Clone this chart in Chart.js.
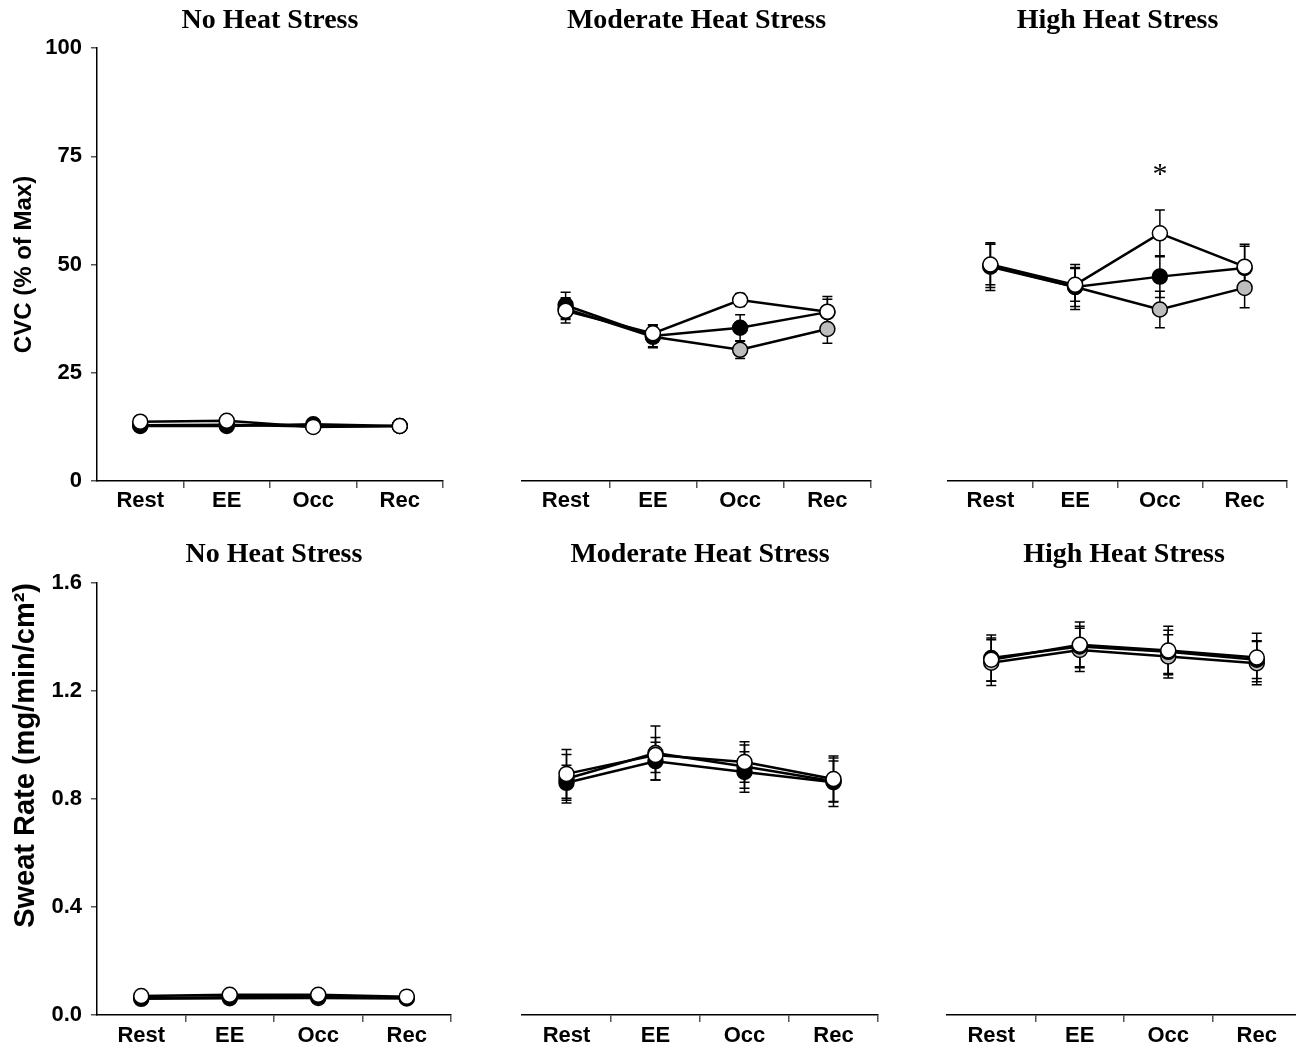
<!DOCTYPE html>
<html>
<head>
<meta charset="utf-8">
<script src="https://cdn.jsdelivr.net/npm/chart.js@4.4.1/dist/chart.umd.min.js"></script>
<style>
  html, body { margin: 0; padding: 0; background: #fff; overflow: hidden; width: 1296px; height: 1051px; }
  .panel { position: absolute; }
</style>
</head>
<body>
<div class="panel" style="left:0px;top:0px;width:452px;height:521px"><canvas id="cvc0"></canvas></div>
<div class="panel" style="left:500px;top:0px;width:380px;height:521px"><canvas id="cvc1"></canvas></div>
<div class="panel" style="left:930px;top:0px;width:366px;height:521px"><canvas id="cvc2"></canvas></div>
<div class="panel" style="left:0px;top:530px;width:460px;height:521px"><canvas id="sr0"></canvas></div>
<div class="panel" style="left:500px;top:530px;width:390px;height:521px"><canvas id="sr1"></canvas></div>
<div class="panel" style="left:930px;top:530px;width:380px;height:521px"><canvas id="sr2"></canvas></div>
<script>
const phases = ['Rest', 'EE', 'Occ', 'Rec'];
const conditions = ['No Heat Stress', 'Moderate Heat Stress', 'High Heat Stress'];

// CVC (% of max), one row per condition
const cvcBlack = [[12.7, 12.7, 13.1, 12.7], [40.6, 33.5, 35.4, 39.0], [49.7, 44.8, 47.2, 49.2]];
const cvcGrey = [[12.9, 13.0, 12.6, 12.7], [39.8, 33.3, 30.3, 35.1], [49.5, 44.8, 39.6, 44.6]];
const cvcWhite = [[13.7, 13.9, 12.5, 12.7], [39.3, 34.1, 41.8, 39.1], [50.0, 45.3, 57.2, 49.5]];
const cvcBlackErr = [[0.8, 0.8, 0.8, 0.8], [3.0, 2.5, 3.0, 3.0], [5.0, 4.5, 4.8, 5.0]];
const cvcGreyErr = [[0.8, 0.8, 0.8, 0.8], [2.5, 2.5, 2.0, 3.3], [5.5, 5.2, 4.2, 4.6]];
const cvcWhiteErr = [[0.8, 0.8, 0.8, 0.8], [2.8, 2.0, 1.5, 3.5], [4.7, 3.8, 5.4, 5.2]];

// Sweat rate (mg/min/cm2)
const srBlack = [[0.063, 0.066, 0.068, 0.064], [0.860, 0.940, 0.900, 0.862], [1.322, 1.365, 1.345, 1.316]];
const srGrey = [[0.060, 0.062, 0.063, 0.061], [0.875, 0.970, 0.920, 0.866], [1.305, 1.352, 1.328, 1.303]];
const srWhite = [[0.070, 0.075, 0.075, 0.068], [0.893, 0.963, 0.937, 0.874], [1.316, 1.371, 1.350, 1.324]];
const srBlackErr = [[0.004, 0.004, 0.004, 0.004], [0.065, 0.070, 0.075, 0.090], [0.085, 0.075, 0.080, 0.070]];
const srGreyErr = [[0.004, 0.004, 0.004, 0.004], [0.090, 0.100, 0.080, 0.075], [0.085, 0.080, 0.080, 0.080]];
const srWhiteErr = [[0.004, 0.004, 0.004, 0.004], [0.090, 0.065, 0.075, 0.085], [0.080, 0.085, 0.090, 0.090]];

const cvcTicks = [0, 25, 50, 75, 100];
const srTicks = [0.0, 0.4, 0.8, 1.2, 1.6];

// significance marker: high heat stress, CVC, occlusion
const sigMarks = [{ metric: 'cvc', cond: 2, phase: 'Occ', value: 72, text: '*' }];

const sansFont = "'Liberation Sans', Arial, sans-serif";
const serifFont = "'Liberation Serif', 'Times New Roman', serif";

const errorBars = {
  id: 'errorBars',
  beforeDatasetsDraw(chart) {
    const ctx = chart.ctx;
    const y = chart.scales.y;
    ctx.save();
    ctx.strokeStyle = '#000';
    ctx.lineWidth = 1.5;
    chart.data.datasets.forEach((ds, i) => {
      const meta = chart.getDatasetMeta(i);
      meta.data.forEach((pt, j) => {
        const v = ds.data[j], e = ds.errors[j];
        const top = y.getPixelForValue(v + e);
        const bot = y.getPixelForValue(v - e);
        ctx.beginPath();
        ctx.moveTo(pt.x, top); ctx.lineTo(pt.x, bot);
        ctx.moveTo(pt.x - 5, top); ctx.lineTo(pt.x + 5, top);
        ctx.moveTo(pt.x - 5, bot); ctx.lineTo(pt.x + 5, bot);
        ctx.stroke();
      });
    });
    ctx.restore();
  }
};

const markText = {
  id: 'markText',
  afterDatasetsDraw(chart, args, opts) {
    const ctx = chart.ctx;
    (opts.marks || []).forEach(m => {
      const px = chart.scales.x.getPixelForValue(phases.indexOf(m.phase));
      const py = chart.scales.y.getPixelForValue(m.value);
      ctx.save();
      ctx.fillStyle = '#000';
      ctx.font = '30px ' + serifFont;
      ctx.textAlign = 'center';
      ctx.textBaseline = 'middle';
      ctx.fillText(m.text, px, py + 6);
      ctx.restore();
    });
  }
};

function makeDatasets(black, grey, white, bErr, gErr, wErr) {
  const base = {
    borderColor: '#000',
    borderWidth: 2.5,
    pointRadius: 7.5,
    pointBorderWidth: 1.5,
    pointBorderColor: '#000',
    tension: 0
  };
  return [
    Object.assign({}, base, { label: 'black', data: black, errors: bErr, pointBackgroundColor: '#000', order: 2 }),
    Object.assign({}, base, { label: 'grey', data: grey, errors: gErr, pointBackgroundColor: '#bdbdbd', order: 3 }),
    Object.assign({}, base, { label: 'white', data: white, errors: wErr, pointBackgroundColor: '#fff', order: 1 })
  ];
}

function drawPanel(id, metric, cond, opt) {
  const isCvc = metric === 'cvc';
  const datasets = isCvc
    ? makeDatasets(cvcBlack[cond], cvcGrey[cond], cvcWhite[cond], cvcBlackErr[cond], cvcGreyErr[cond], cvcWhiteErr[cond])
    : makeDatasets(srBlack[cond], srGrey[cond], srWhite[cond], srBlackErr[cond], srGreyErr[cond], srWhiteErr[cond]);
  const tickVals = isCvc ? cvcTicks : srTicks;

  const yScale = {
    min: tickVals[0],
    max: tickVals[tickVals.length - 1],
    display: opt.showY,
    afterBuildTicks: s => { s.ticks = tickVals.map(v => ({ value: v })); },
    ticks: {
      color: '#000',
      padding: 9,
      font: { family: sansFont, size: 22, weight: 'bold' },
      callback: v => isCvc ? String(v) : Number(v).toFixed(1)
    },
    grid: { drawOnChartArea: false, tickLength: 6, tickColor: '#555', lineWidth: 1.5 },
    border: { color: '#000', width: 1.5 },
    title: {
      display: opt.showY,
      text: isCvc ? 'CVC (% of Max)' : 'Sweat Rate (mg/min/cm²)',
      color: '#000',
      align: isCvc ? 'center' : 'end',
      font: { family: sansFont, size: isCvc ? 24 : 29, weight: 'bold', lineHeight: 1.2 },
      padding: { top: isCvc ? 10 : 9, bottom: 0 }
    }
  };
  if (opt.showY) {
    yScale.afterFit = s => { s.width = 97; };
  }

  new Chart(document.getElementById(id), {
    type: 'line',
    data: { labels: phases, datasets: datasets },
    plugins: [errorBars, markText],
    options: {
      responsive: true,
      maintainAspectRatio: false,
      animation: false,
      events: [],
      layout: { padding: { left: opt.padLeft, right: opt.padRight, top: 0, bottom: 0 } },
      plugins: {
        legend: { display: false },
        tooltip: { enabled: false },
        title: {
          display: true,
          fullSize: false,
          text: conditions[cond],
          color: '#000',
          font: { family: serifFont, size: 28, weight: 'bold', lineHeight: 1.2 },
          padding: opt.titlePad
        },
        markText: { marks: sigMarks.filter(m => m.metric === metric && m.cond === cond) }
      },
      scales: {
        x: {
          type: 'category',
          offset: true,
          grid: {
            offset: true,
            drawOnChartArea: false,
            tickLength: 7,
            lineWidth: 1.5,
            tickColor: c => c.index === 0 ? 'rgba(0,0,0,0)' : '#555'
          },
          border: { color: '#000', width: 1.5 },
          ticks: {
            color: '#000',
            padding: opt.xPad,
            maxRotation: 0,
            autoSkip: false,
            font: { family: sansFont, size: 22, weight: 'bold', lineHeight: 1 }
          },
          afterFit: s => { s.height = opt.xHeight; }
        },
        y: yScale
      }
    }
  });
}

const topPad = { top: 4, bottom: 10.4 };
const botPad = { top: 8, bottom: 11.4 };

drawPanel('cvc0', 'cvc', 0, { showY: true, padLeft: 0, padRight: 7, titlePad: topPad, xHeight: 40, xPad: 2 });
drawPanel('cvc1', 'cvc', 1, { showY: false, padLeft: 22, padRight: 9, titlePad: topPad, xHeight: 40, xPad: 2 });
drawPanel('cvc2', 'cvc', 2, { showY: false, padLeft: 18, padRight: 3, titlePad: topPad, xHeight: 40, xPad: 2 });
drawPanel('sr0', 'sr', 0, { showY: true, padLeft: 0, padRight: 8, titlePad: botPad, xHeight: 36, xPad: 3 });
drawPanel('sr1', 'sr', 1, { showY: false, padLeft: 22, padRight: 12, titlePad: botPad, xHeight: 36, xPad: 3 });
drawPanel('sr2', 'sr', 2, { showY: false, padLeft: 17, padRight: 7, titlePad: botPad, xHeight: 36, xPad: 3 });
</script>
</body>
</html>
